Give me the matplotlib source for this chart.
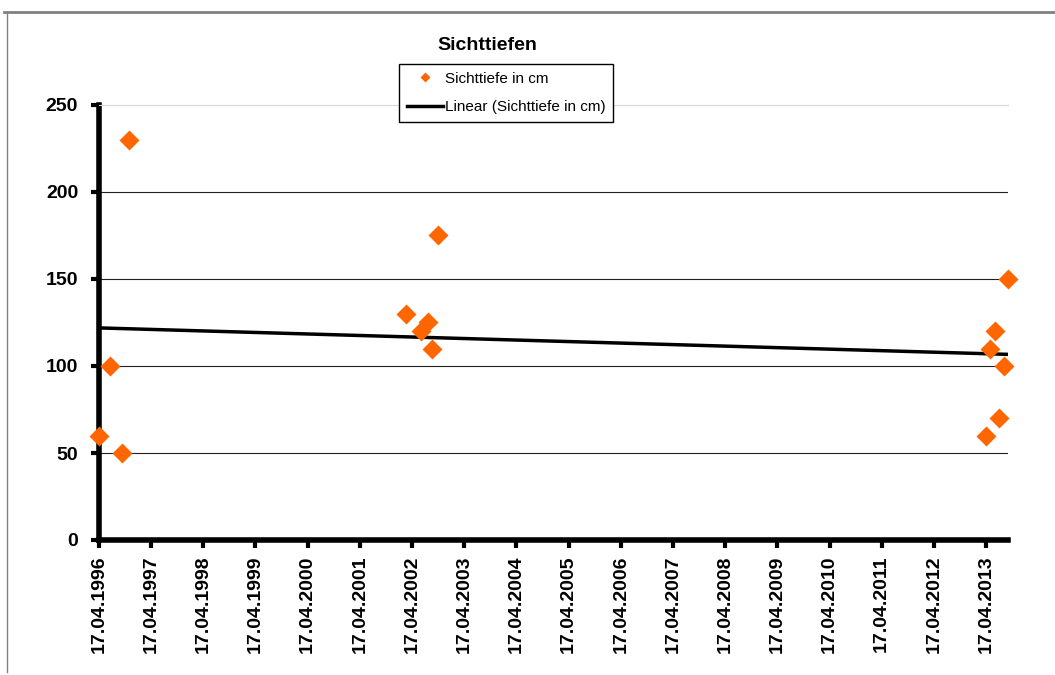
import datetime as dt
import numpy as np
import matplotlib
matplotlib.use("Agg")
import matplotlib.pyplot as plt
import matplotlib.dates as mdates
from matplotlib.lines import Line2D

plt.rcParams["font.family"] = ["Liberation Sans", "DejaVu Sans"]

# Messdaten (Datum, Sichttiefe in cm)
dates = [
    "1996-04-17", "1996-07-02", "1996-09-25", "1996-11-14",
    "2002-03-03", "2002-06-17", "2002-08-04", "2002-09-05", "2002-10-19",
    "2013-04-14", "2013-05-17", "2013-06-15", "2013-07-17", "2013-08-19", "2013-09-17",
]
depth = [60, 100, 50, 230,
         130, 120, 125, 110, 175,
         60, 110, 120, 70, 100, 150]
tick_years = list(range(1996, 2014))
y_ticks = [0, 50, 100, 150, 200, 250]

x = mdates.date2num([dt.datetime.strptime(d, "%Y-%m-%d") for d in dates])
y = np.array(depth, dtype=float)

fig = plt.figure(figsize=(10.55, 6.75), dpi=100)
ax = fig.add_axes([99 / 1055, 135 / 675, 909 / 1055, 435 / 675])

xmin = mdates.date2num(dt.datetime(1996, 4, 17))
xmax = x.max()
ax.set_xlim(xmin, xmax)
ax.set_ylim(0, 250)

# Gitterlinien
ax.set_yticks(y_ticks)
ax.yaxis.grid(True, color="#202020", lw=0.8)
ax.get_ygridlines()[-1].set_color("#d9d9d9")
ax.set_axisbelow(True)

# Trendlinie (linear)
k, d = np.polyfit(x, y, 1)
xs = np.array([xmin, xmax])
ax.plot(xs, k * xs + d, c="black", lw=2.5, label="Linear (Sichttiefe in cm)", zorder=3)

ax.plot(x, y, ls="none", marker="D", ms=10, color="#FF6600", mec="none",
        label="Sichttiefe in cm", clip_on=False, zorder=5)

ax.set_xticks(mdates.date2num([dt.datetime(yr, 4, 17) for yr in tick_years]))
ax.xaxis.set_major_formatter(mdates.DateFormatter("%d.%m.%Y"))
for lab in ax.get_xticklabels():
    lab.set_rotation(90)

ax.tick_params(axis="both", direction="out", length=6, width=3, labelsize=14)
ax.tick_params(axis="y", pad=9)
ax.tick_params(axis="x", pad=5)
for lab in ax.get_xticklabels() + ax.get_yticklabels():
    lab.set_fontweight("bold")

ax.spines["right"].set_visible(False)
ax.spines["top"].set_color("#d9d9d9")
ax.spines["top"].set_linewidth(0.8)
ax.spines["left"].set_linewidth(4)
ax.spines["bottom"].set_linewidth(4)

h, l = ax.get_legend_handles_labels()
leg = ax.legend(h[::-1], l[::-1], loc="center", bbox_to_anchor=(506 / 1055, 1 - 93 / 675),
                bbox_transform=fig.transFigure, fontsize=11, fancybox=False,
                edgecolor="black", framealpha=1, handlelength=2.4, handletextpad=0.1,
                markerscale=0.5, labelspacing=0.95, borderpad=0.5)
leg.get_frame().set_linewidth(1)

fig.text(487 / 1055, 1 - 45 / 675, "Sichttiefen", ha="center", va="center",
         fontsize=14, fontweight="bold")

# Rahmen des Diagrammbereichs
fig.add_artist(Line2D([4 / 1055, 1], [1 - 12 / 675, 1 - 12 / 675],
                      transform=fig.transFigure, color="#808080", lw=2))
fig.add_artist(Line2D([6.5 / 1055, 6.5 / 1055], [1 - 12 / 675, 1 - 672 / 675],
                      transform=fig.transFigure, color="#808080", lw=1))

fig.savefig("out.png", dpi=100)
